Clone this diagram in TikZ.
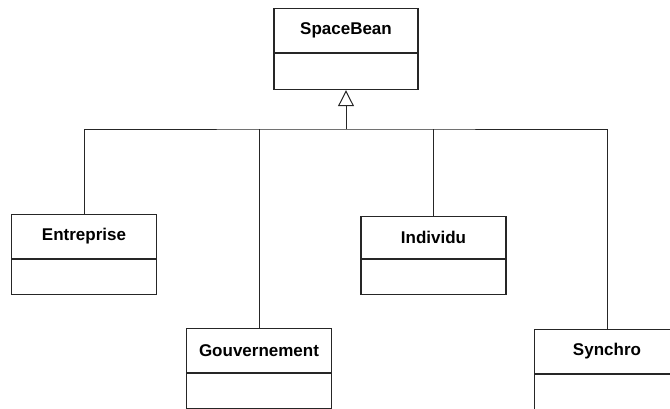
\documentclass[tikz,border=0pt]{standalone}
\usepackage{fontspec}
\setmainfont{Liberation Sans}
\usetikzlibrary{arrows.meta}
\begin{document}
\begin{tikzpicture}[x=1pt,y=1pt,
  ink/.style={draw=black!85, line width=1.1pt},
  classname/.style={ink, minimum width=145pt, minimum height=44pt, inner sep=0pt,
    font=\fontsize{17}{20}\selectfont\bfseries, anchor=north},
  classattr/.style={ink, minimum width=145pt, minimum height=35pt, inner sep=0pt, anchor=north},
  link/.style={draw=black!85, line width=0.9pt},
  inherit/.style={link, -{Triangle[open, length=16pt, width=16pt, line width=1pt]}}
]
\clip (0,0) rectangle (670,-409);

% superclass
\node[classname, minimum width=144pt] (sb) at (346,-8) {SpaceBean};
\node[classattr, minimum width=144pt, minimum height=36pt] (sbA) at (sb.south) {};

% subclasses
\node[classname] (ent) at (84,-214) {Entreprise};
\node[classattr] (entA) at (ent.south) {};

\node[classname] (gov) at (259,-328) {Gouvernement};
\node[classattr] (govA) at (gov.south) {};

\node[classname, minimum height=42pt] (ind) at (433.5,-216) {Individu};
\node[classattr] (indA) at (ind.south) {};

\node[classname] (syn) at (607,-329) {Synchro};
\node[classattr] (synA) at (syn.south) {};

% generalisation tree
\coordinate (bus) at (346,-129);
\draw[inherit] (bus) -- (sbA.south);
\draw[link] (ent.north) |- (bus) -| (syn.north);
\draw[link] (gov.north) -- (gov.north |- bus);
\draw[link] (ind.north) -- (ind.north |- bus);
\end{tikzpicture}
\end{document}
